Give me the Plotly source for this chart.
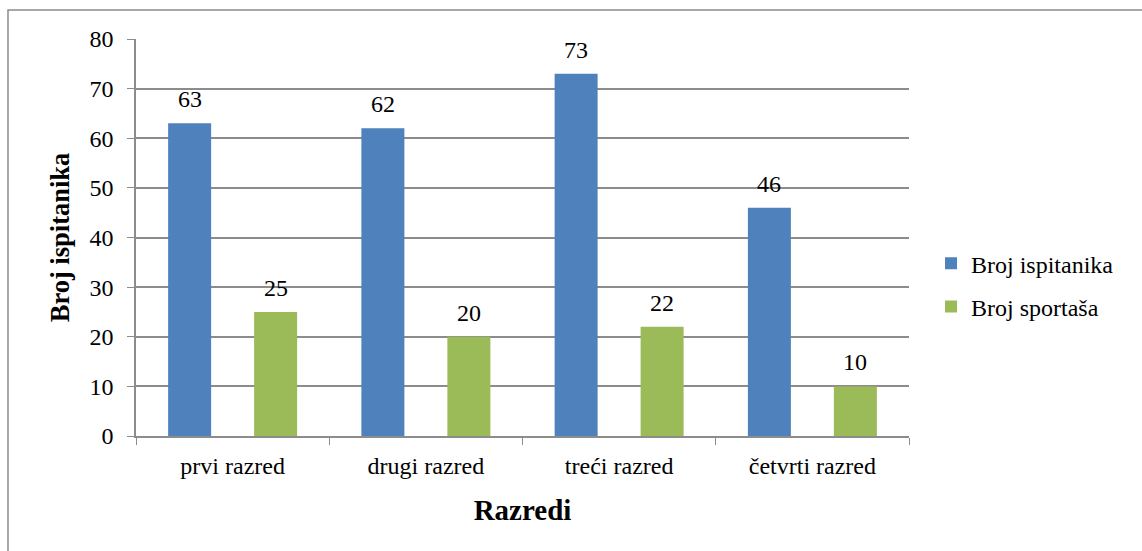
import plotly.graph_objects as go

categories = ['prvi razred', 'drugi razred', 'treći razred', 'četvrti razred']
ispitanika = [63, 62, 73, 46]
sportasa = [25, 20, 22, 10]

BLUE = '#4F81BD'
GREEN = '#9BBB59'
GRID = '#8C8C8C'
FONT = 'Liberation Serif'

fig = go.Figure()
fig.add_trace(go.Bar(x=categories, y=ispitanika, name='Broj ispitanika',
                     legendgroup='a', marker=dict(color=BLUE, line_width=0)))
fig.add_trace(go.Bar(x=categories, y=sportasa, name='Broj sportaša',
                     legendgroup='b', marker=dict(color=GREEN, line_width=0)))

# value labels above the bars (offset matches group layout below)
half = 0.2228
for i, (a, b) in enumerate(zip(ispitanika, sportasa)):
    for dx, v in ((-half, a), (half, b)):
        fig.add_annotation(x=i + dx, y=v, text=str(v), showarrow=False,
                           yanchor='bottom', yshift=9,
                           font=dict(family=FONT, size=24, color='black'))

# outer chart border
fig.add_shape(type='rect', xref='paper', yref='paper',
              x0=-0.1656, x1=1.35, y0=-0.35, y1=1.073,
              line=dict(color='#8C8C8C', width=1.5), layer='below')

fig.update_layout(
    width=1142, height=551,
    margin=dict(l=136, r=233, t=39, b=115),
    paper_bgcolor='white', plot_bgcolor='white',
    barmode='group', bargap=0.11, bargroupgap=0.5,
    font=dict(family=FONT, size=24, color='black'),
    showlegend=True,
    legend=dict(x=1.0285, y=0.38, xanchor='left', yanchor='middle',
                font=dict(family=FONT, size=24), tracegroupgap=9,
                itemwidth=30, itemsizing='constant'),
    xaxis=dict(
        title=dict(text='<b>Razredi</b>', font=dict(family=FONT, size=29), standoff=22),
        tickson='boundaries', ticks='outside', ticklen=7, tickcolor=GRID,
        showline=True, linecolor=GRID, linewidth=1.5,
        tickfont=dict(family=FONT, size=24), ticklabelstandoff=7,
    ),
    yaxis=dict(
        title=dict(text='<b>Broj ispitanika</b>', font=dict(family=FONT, size=26.5), standoff=12),
        range=[0, 80], dtick=10, ticks='outside', ticklen=7, tickcolor=GRID,
        showgrid=True, gridcolor=GRID, gridwidth=1.5,
        showline=True, linecolor=GRID, linewidth=1.5,
        zeroline=False,
        tickfont=dict(family=FONT, size=24), ticklabelstandoff=9,
    ),
)

fig.write_html('out.html', config={'displayModeBar': False},
               post_script="document.body.style.margin='0';")
